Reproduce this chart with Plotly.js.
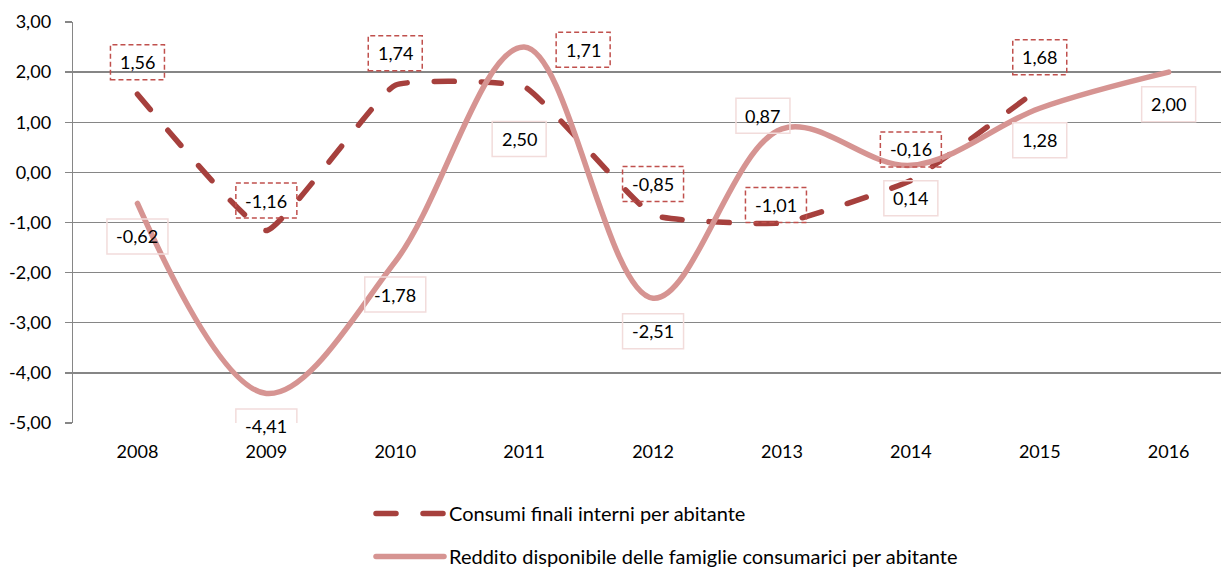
<!DOCTYPE html>
<html><head><meta charset="utf-8">
<script src="https://cdn.plot.ly/plotly-3.0.1.min.js"></script>
<style>
html,body{margin:0;padding:0;background:#fff}
#chart{width:1221px;height:569px}
.scatterlayer .js-line{stroke-linecap:round}
.legendlines path{stroke-linecap:round}
</style></head><body><div id="chart"></div>
<script>
// ---- data ----
const years = [2008, 2009, 2010, 2011, 2012, 2013, 2014, 2015, 2016];
const consumiYears = [2008, 2009, 2010, 2011, 2012, 2013, 2014, 2015];
const consumi = [1.56, -1.16, 1.74, 1.71, -0.85, -1.01, -0.16, 1.68];
const reddito = [-0.62, -4.41, -1.78, 2.50, -2.51, 0.87, 0.14, 1.28, 2.00];
const yTicks = [3, 2, 1, 0, -1, -2, -3, -4, -5];
const seriesNames = ['Consumi finali interni per abitante',
                     'Reddito disponibile delle famiglie consumarici per abitante'];

// ---- styling / label placement (pixels, Plotly convention: +y is up) ----
const consumiLabelShift = [[0,32],[0,30],[0,32],[59,37],[0,31],[-6,18],[0,31],[0,31]];
const redditoLabelShift = [[0,-33],[0,-33],[0,-33],[-5,-92],[0,-33],[-19,13],[0,-33],[0,-32],[0,-32]];
const FONT = 'Lato, "Open Sans", sans-serif';
const darkRed = '#A6403D';
const pink = '#D69492';
const fmt = v => v.toFixed(2).replace('.', ',');

const cv = document.createElement('canvas').getContext('2d');
cv.font = '18px Lato';
const boxW = t => Math.round(cv.measureText(t).width + 19);
const BOX_H = 35;

const annotations = [];
const shapes = [];
function addLabels(xs, ys, shifts, borderColor, dash) {
  xs.forEach((x, i) => {
    const t = fmt(ys[i]);
    const [dx, dy] = shifts[i];
    const w = boxW(t);
    annotations.push({x: x, y: ys[i], xref: 'x', yref: 'y', text: t, showarrow: false,
      xshift: dx, yshift: dy, font: {family: FONT, size: 18, color: '#000'}});
    shapes.push({type: 'rect', xref: 'x', yref: 'y', xsizemode: 'pixel', ysizemode: 'pixel',
      xanchor: x, yanchor: ys[i], x0: dx - w / 2, x1: dx + w / 2, y0: dy - BOX_H / 2, y1: dy + BOX_H / 2,
      line: {color: borderColor, width: 1.5, dash: dash}, layer: 'above'});
  });
}
addLabels(consumiYears, consumi, consumiLabelShift, '#C0504D', '5px,3px');
addLabels(years, reddito, redditoLabelShift, '#F2DCDB', 'solid');

const traces = [
  {x: consumiYears, y: consumi, name: seriesNames[0], type: 'scatter', mode: 'lines',
   line: {color: darkRed, width: 5.5, dash: '20px,27px', shape: 'spline', smoothing: 0.35},
   legendgroup: 'a', hoverinfo: 'skip'},
  {x: years, y: reddito, name: seriesNames[1], type: 'scatter', mode: 'lines',
   line: {color: pink, width: 5.5, shape: 'spline', smoothing: 1},
   legendgroup: 'b', hoverinfo: 'skip'}
];

const xr = [2007.5, 2007.5 + 1148 / 128.9];
const layout = {
  width: 1221, height: 569,
  margin: {l: 73, r: 0, t: 22, b: 146, pad: 0, autoexpand: false},
  paper_bgcolor: '#fff', plot_bgcolor: '#fff',
  font: {family: FONT, size: 18, color: '#000'},
  showlegend: true,
  legend: {xref: 'container', yref: 'container', x: 371 / 1221, y: 1 - 494 / 569,
    xanchor: 'left', yanchor: 'top', orientation: 'v', traceorder: 'grouped',
    tracegroupgap: 14, itemwidth: 68, font: {family: FONT, size: 20, color: '#000'},
    bgcolor: 'rgba(0,0,0,0)'},
  xaxis: {type: 'linear', range: xr, tickmode: 'array', tickvals: years,
    ticktext: years.map(String), ticks: '', showgrid: false, zeroline: false,
    showline: false, ticklabelstandoff: 16, tickangle: 0, tickfont: {family: FONT, size: 18}},
  xaxis2: {type: 'linear', overlaying: 'x', anchor: 'free', position: 0.625, range: xr,
    tickmode: 'array', tickvals: years.map(y => y + 0.5), ticks: 'outside', ticklen: 6,
    tickcolor: '#868686', tickwidth: 1.3, showticklabels: false, showgrid: false,
    zeroline: false, showline: true, linecolor: '#868686', linewidth: 1.3},
  yaxis: {range: [-5, 3], tickmode: 'array', tickvals: yTicks, ticktext: yTicks.map(fmt),
    ticks: 'outside', ticklen: 7, tickcolor: '#868686', tickwidth: 1.3,
    showgrid: true, gridcolor: '#868686', gridwidth: 1.3, zeroline: false,
    showline: true, linecolor: '#868686', linewidth: 1.3, ticklabelstandoff: 10,
    tickfont: {family: FONT, size: 18}},
  annotations: annotations,
  shapes: shapes
};
Plotly.newPlot('chart', traces, layout, {staticPlot: true, displayModeBar: false});
</script></body></html>
